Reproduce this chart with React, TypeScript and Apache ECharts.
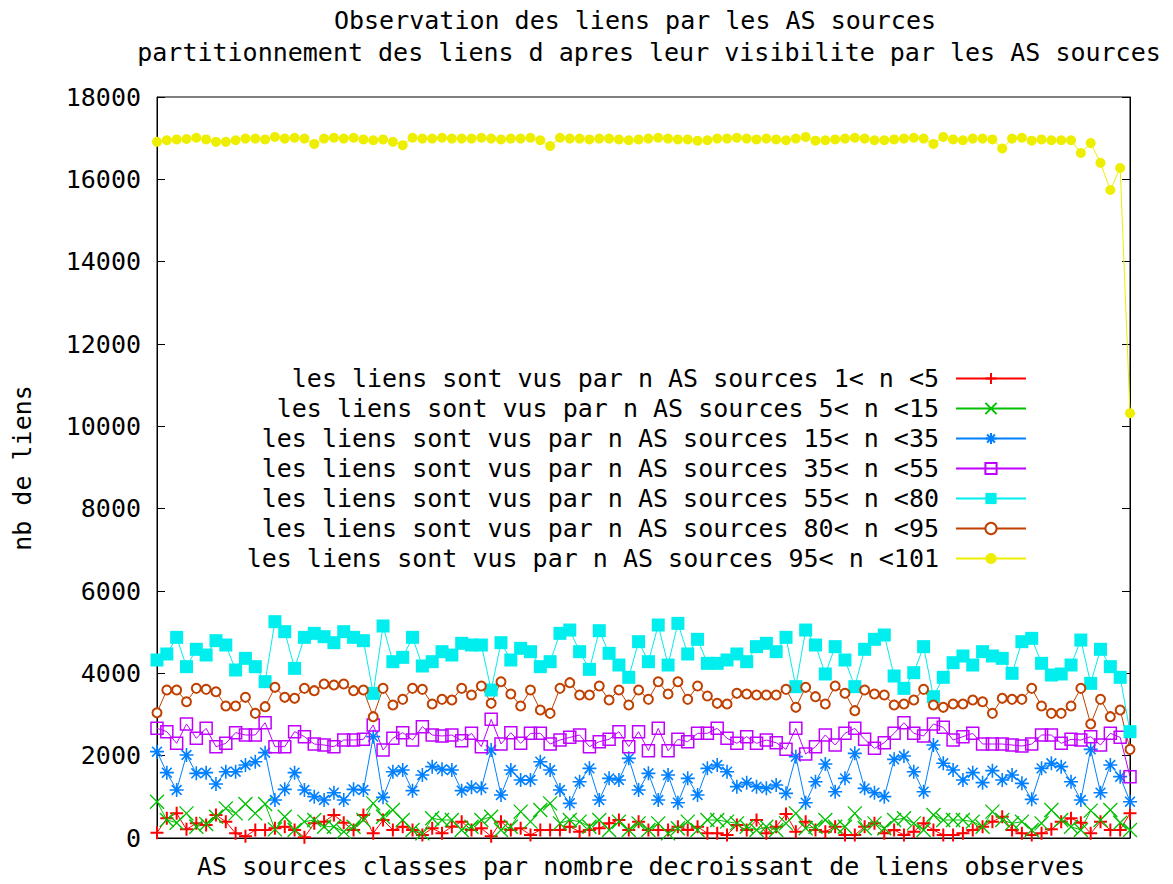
import React, { useEffect, useRef } from "react";
import * as echarts from "echarts";

const titleLine1 = "Observation des liens par les AS sources";
const titleLine2 = "partitionnement des liens d apres leur visibilite par les AS sources";
const xAxisTitle = "AS sources classes par nombre decroissant de liens observes";
const yAxisTitle = "nb de liens";

const seriesNames = [
  "les liens sont vus par n AS sources 1< n <5",
  "les liens sont vus par n AS sources 5< n <15",
  "les liens sont vus par n AS sources 15< n <35",
  "les liens sont vus par n AS sources 35< n <55",
  "les liens sont vus par n AS sources 55< n <80",
  "les liens sont vus par n AS sources 80< n <95",
  "les liens sont vus par n AS sources 95< n <101",
];

const yTicks = { min: 0, max: 18000, interval: 2000 };

const red1to5 = [
  130, 478, 599, 210, 356, 316, 559, 397, 113, 40, 194, 194, 235, 275, 194, 20, 356, 397, 559, 372,
  194, 559, 113, 437, 194, 275, 194, 73, 235, 113, 275, 397, 194, 235, 40, 397, 194, 235, 73, 194,
  194, 194, 275, 154, 194, 235, 356, 437, 194, 397, 194, 194, 194, 275, 194, 275, 113, 113, 73, 316,
  194, 437, 113, 275, 583, 154, 397, 194, 154, 275, 73, 73, 275, 356, 113, 194, 73, 154, 356, 194,
  73, 73, 113, 194, 275, 397, 518, 194, 113, 73, 113, 210, 397, 478, 372, 113, 397, 194, 194, 599,
];
const green5to15 = [
  882, 437, 372, 599, 275, 340, 518, 720, 599, 826, 599, 826, 210, 518, 194, 397, 437, 275, 275, 154,
  275, 437, 842, 518, 680, 437, 194, 113, 478, 437, 437, 194, 275, 437, 518, 194, 275, 640, 397, 680,
  842, 356, 437, 397, 275, 437, 194, 397, 194, 356, 194, 356, 113, 235, 397, 194, 437, 437, 397, 356,
  275, 194, 275, 194, 356, 599, 235, 275, 437, 275, 275, 599, 235, 356, 235, 437, 478, 356, 194, 559,
  437, 437, 437, 397, 275, 640, 437, 356, 397, 194, 356, 680, 437, 275, 194, 664, 437, 680, 372, 194,
];
const blue15to35 = [
  2097, 1587, 1166, 2016, 1571, 1587, 1312, 1611, 1611, 1773, 1854, 2073, 923, 1182, 1587, 1166, 1004, 923, 1101, 923,
  1182, 1166, 2462, 988, 1611, 1652, 1150, 1530, 1733, 1668, 1652, 1150, 1231, 1206, 2137, 1044, 1652, 1409, 1409, 1854,
  1652, 1166, 842, 1368, 1692, 923, 1449, 1409, 1935, 1166, 1571, 923, 1530, 858, 1449, 1044, 1692, 1773, 1611, 1247,
  1344, 1247, 1206, 1287, 1085, 1976, 858, 1368, 1797, 1125, 1449, 2056, 1206, 1101, 1004, 1911, 1992, 1611, 1125, 2259,
  1814, 1652, 1409, 1587, 1344, 1636, 1409, 1530, 1328, 939, 1692, 1814, 1733, 1368, 923, 2153, 1101, 1773, 1490, 882,
];
const magenta35to55 = [
  2664, 2583, 2299, 2769, 2421, 2664, 2218, 2299, 2559, 2502, 2502, 2801, 2218, 2218, 2583, 2462, 2283, 2259, 2218, 2380,
  2380, 2397, 2745, 2137, 2421, 2559, 2380, 2704, 2502, 2478, 2502, 2364, 2543, 2218, 2882, 2283, 2559, 2299, 2543, 2543,
  2283, 2380, 2445, 2502, 2218, 2340, 2397, 2583, 2218, 2583, 2121, 2664, 2121, 2397, 2340, 2543, 2543, 2664, 2421, 2299,
  2462, 2299, 2380, 2315, 2153, 2664, 2040, 2218, 2502, 2259, 2543, 2664, 2397, 2178, 2315, 2543, 2801, 2543, 2478, 2769,
  2688, 2380, 2462, 2543, 2283, 2283, 2283, 2259, 2234, 2283, 2502, 2502, 2299, 2397, 2380, 2462, 2259, 2543, 2445, 1490,
];
const cyan55to80 = [
  4324, 4470, 4874, 4162, 4583, 4445, 4793, 4688, 4081, 4364, 4162, 3797, 5255, 5012, 4121, 4874, 4971, 4890, 4745, 5012,
  4874, 4793, 3514, 5150, 4283, 4388, 4874, 4178, 4283, 4526, 4445, 4729, 4688, 4688, 3595, 4745, 4324, 4607, 4526, 4162,
  4283, 4971, 5052, 4526, 4097, 5036, 4486, 4202, 3903, 4769, 4283, 5174, 4202, 5214, 4470, 4826, 4243, 4243, 4324, 4470,
  4283, 4648, 4729, 4526, 4874, 3676, 5052, 4688, 3984, 4648, 4324, 3676, 4583, 4826, 4931, 3935, 3635, 4016, 4648, 3433,
  3903, 4259, 4421, 4202, 4526, 4421, 4364, 4000, 4769, 4850, 4243, 3959, 3984, 4202, 4809, 3757, 4583, 4162, 3903, 2583,
];
const brown80to95 = [
  3044, 3595, 3595, 3311, 3635, 3611, 3554, 3206, 3206, 3417, 3028, 3190, 3660, 3417, 3393, 3635, 3579, 3741, 3716, 3741,
  3579, 3595, 2947, 3635, 3231, 3368, 3635, 3611, 3255, 3368, 3352, 3635, 3473, 3692, 3271, 3797, 3498, 3206, 3595, 3109,
  3028, 3635, 3773, 3473, 3473, 3692, 3352, 3595, 3231, 3595, 3368, 3797, 3498, 3797, 3368, 3692, 3449, 3271, 3255, 3514,
  3498, 3473, 3473, 3473, 3611, 3174, 3660, 3433, 3255, 3692, 3514, 3093, 3595, 3498, 3473, 3231, 3255, 3352, 3611, 3231,
  3174, 3255, 3255, 3352, 3311, 3028, 3393, 3368, 3368, 3635, 3206, 3028, 3028, 3206, 3635, 2769, 3368, 2947, 3109, 2153,
];
const yellow95to101 = [
  16910, 16950, 16970, 16980, 17010, 16970, 16910, 16910, 16950, 16990, 16990, 16970, 17030, 16990, 17010, 16990, 16860, 16990, 17010, 16990,
  17010, 16970, 16950, 16970, 16910, 16830, 17010, 16990, 16990, 17010, 16990, 16990, 16990, 17010, 16990, 16970, 16990, 16990, 17010, 16950,
  16810, 17010, 16990, 16990, 16970, 16990, 16990, 16970, 16950, 16970, 16990, 17010, 16990, 16970, 16970, 16940, 16950, 16990, 16990, 17010,
  16990, 16970, 16990, 16970, 16950, 16990, 17030, 16940, 16950, 16970, 16990, 17010, 16990, 16950, 16950, 16970, 16990, 17010, 16990, 16860,
  17030, 16970, 16950, 16990, 16990, 16970, 16750, 16990, 17010, 16940, 16970, 16950, 16950, 16950, 16640, 16880, 16400, 15740, 16275, 10320,
];

const categories = red1to5.map((_, i) => String(i + 1));

const FONT = "DejaVu Sans Mono";

const PLUS = "path://M5,0L5,10M0,5L10,5";
const CROSS = "path://M0,0L10,10M10,0L0,10";
const STAR = "path://M5,0L5,10M0,5L10,5M1.5,1.5L8.5,8.5M8.5,1.5L1.5,8.5";
const SQUARE = "path://M0,0L10,0L10,10L0,10Z";

export default function App() {
  const ref = useRef<HTMLDivElement>(null);

  useEffect(() => {
    if (!ref.current) return;
    const chart = echarts.init(ref.current, null, { renderer: "svg" });

    const mk = (
      name: string,
      data: number[],
      color: string,
      symbol: string,
      symbolSize: number,
      fill: string,
      borderWidth: number
    ) => ({
      name,
      type: "line",
      data,
      symbol,
      symbolSize,
      showAllSymbol: true,
      color,
      lineStyle: { color, width: 1 },
      itemStyle: { color: fill, borderColor: color, borderWidth },
      emphasis: { disabled: true },
      silent: true,
    });

    const series = [
      mk(seriesNames[0], red1to5, "#ff0000", PLUS, 13, "rgba(0,0,0,0)", 2),
      mk(seriesNames[1], green5to15, "#00c000", CROSS, 14, "rgba(0,0,0,0)", 1.3),
      mk(seriesNames[2], blue15to35, "#0080ff", STAR, 14, "rgba(0,0,0,0)", 1.6),
      mk(seriesNames[3], magenta35to55, "#c000ff", SQUARE, 12, "rgba(0,0,0,0)", 1.5),
      mk(seriesNames[4], cyan55to80, "#00eeee", "rect", 13, "#00eeee", 0),
      mk(seriesNames[5], brown80to95, "#c04000", "emptyCircle", 9, "#c04000", 2),
      mk(seriesNames[6], yellow95to101, "#eeee00", "circle", 10, "#eeee00", 0),
    ];

    const textEl = (text: string, x: number, y: number, rotation = 0) => ({
      type: "text",
      x,
      y,
      rotation,
      silent: true,
      style: {
        text,
        fill: "#000",
        fontSize: 25,
        fontFamily: FONT,
        align: "center",
        verticalAlign: "middle",
        textAlign: "center",
        textVerticalAlign: "middle",
      },
    });

    chart.setOption({
      animation: false,
      backgroundColor: "#ffffff",
      grid: {
        left: 157,
        top: 97,
        right: 43,
        bottom: 46,
        show: true,
        borderColor: "#000",
        borderWidth: 1,
        backgroundColor: "transparent",
      },
      xAxis: {
        type: "category",
        data: categories,
        boundaryGap: false,
        axisLine: { show: true, lineStyle: { color: "#000", width: 1 } },
        axisTick: { show: false },
        axisLabel: { show: false },
        splitLine: { show: false },
      },
      yAxis: [
        {
          type: "value",
          min: yTicks.min,
          max: yTicks.max,
          interval: yTicks.interval,
          axisLine: { show: true, lineStyle: { color: "#000", width: 1 } },
          axisTick: { show: true, inside: true, length: 8, lineStyle: { color: "#000" } },
          axisLabel: {
            color: "#000",
            fontSize: 25,
            fontFamily: FONT,
            margin: 16,
            formatter: (v: number) => String(v),
          },
          splitLine: { show: false },
        },
        {
          type: "value",
          position: "right",
          min: yTicks.min,
          max: yTicks.max,
          interval: yTicks.interval,
          axisLine: { show: true, lineStyle: { color: "#000", width: 1 } },
          axisTick: { show: true, inside: true, length: 8, lineStyle: { color: "#000" } },
          axisLabel: { show: false },
          splitLine: { show: false },
        },
      ],
      legend: {
        data: seriesNames,
        orient: "vertical",
        align: "right",
        right: 146,
        top: 366,
        padding: 0,
        itemWidth: 70,
        itemHeight: 14,
        itemGap: 5,
        selectedMode: false,
        textStyle: { color: "#000", fontSize: 25, fontFamily: FONT, padding: [0, 12, 0, 0] },
      },
      graphic: [
        textEl(titleLine1, 635, 20),
        textEl(titleLine2, 649, 52),
        textEl(xAxisTitle, 641, 866),
        textEl(yAxisTitle, 22, 468, Math.PI / 2),
      ],
      series,
    });

    return () => chart.dispose();
  }, []);

  return (
    <div
      ref={ref}
      style={{ position: "absolute", left: 0, top: 0, width: 1173, height: 884 }}
    />
  );
}
